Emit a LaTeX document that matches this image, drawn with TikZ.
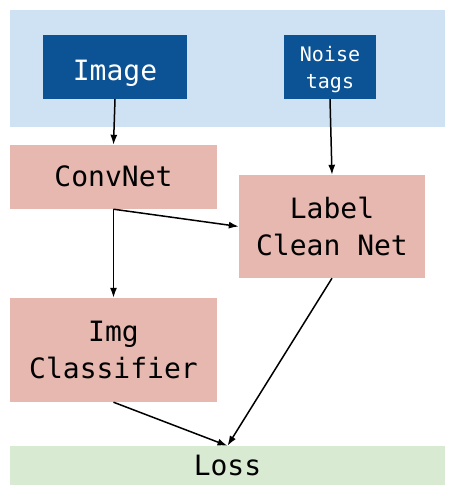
\documentclass[tikz,border=0pt]{standalone}
\usepackage{fontspec}
\setmonofont{DejaVu Sans Mono}
\usepackage{tikz}
\usetikzlibrary{arrows.meta,positioning}
\definecolor{inblue}{HTML}{0B5394}
\definecolor{bgblue}{HTML}{CFE2F3}
\definecolor{netpink}{HTML}{E6B8AF}
\definecolor{lossgreen}{HTML}{D9EAD3}

\begin{document}
\begin{tikzpicture}[x=1pt,y=1pt]
                \tikzstyle{every node}+=[inner sep=0pt, rectangle, align=center, font=\ttfamily\fontsize{28}{37}\selectfont]
                \tikzstyle{inbox}=[fill=inblue, text=white, minimum height=64pt]
                \tikzstyle{netbox}=[fill=netpink, minimum width=207pt]
                \tikzstyle{conn}=[line width=1.5pt, -{Latex[length=10pt,width=7pt]}]
                \useasboundingbox (0,0) rectangle (455,-496);
                \fill [bgblue] (10,-10) rectangle (445,-127);
                \node [inbox, minimum width=144pt, text height=26pt, text depth=0pt] (img) at (115,-67) {Image};
                \node [inbox, minimum width=92pt, text depth=0pt, font=\ttfamily\fontsize{20}{27}\selectfont] (tags) at (330,-67) {Noise\\tags};
                \node [netbox, minimum height=64pt, text height=18pt, text depth=0pt] (conv) at (113.5,-177) {ConvNet};
                \node [netbox, minimum width=186pt, minimum height=103pt] (clean) at (332,-226.5) {Label\\Clean Net};
                \node [netbox, minimum height=104pt] (cls) at (113.5,-350) {Img\\Classifier};
                \node [fill=lossgreen, minimum width=435pt, minimum height=39pt] (loss) at (227.5,-465.5) {Loss};
                \draw [conn] (img.south) -- (conv.north);
                \draw [conn] (tags.south) -- (clean.north);
                \draw [conn] (conv.south) -- (clean.west);
                \draw [conn] (conv.south) -- (cls.north);
                \draw [conn] (cls.south) -- (loss.north);
                \draw [conn] (clean.south) -- (loss.north);
            \end{tikzpicture}
\end{document}
